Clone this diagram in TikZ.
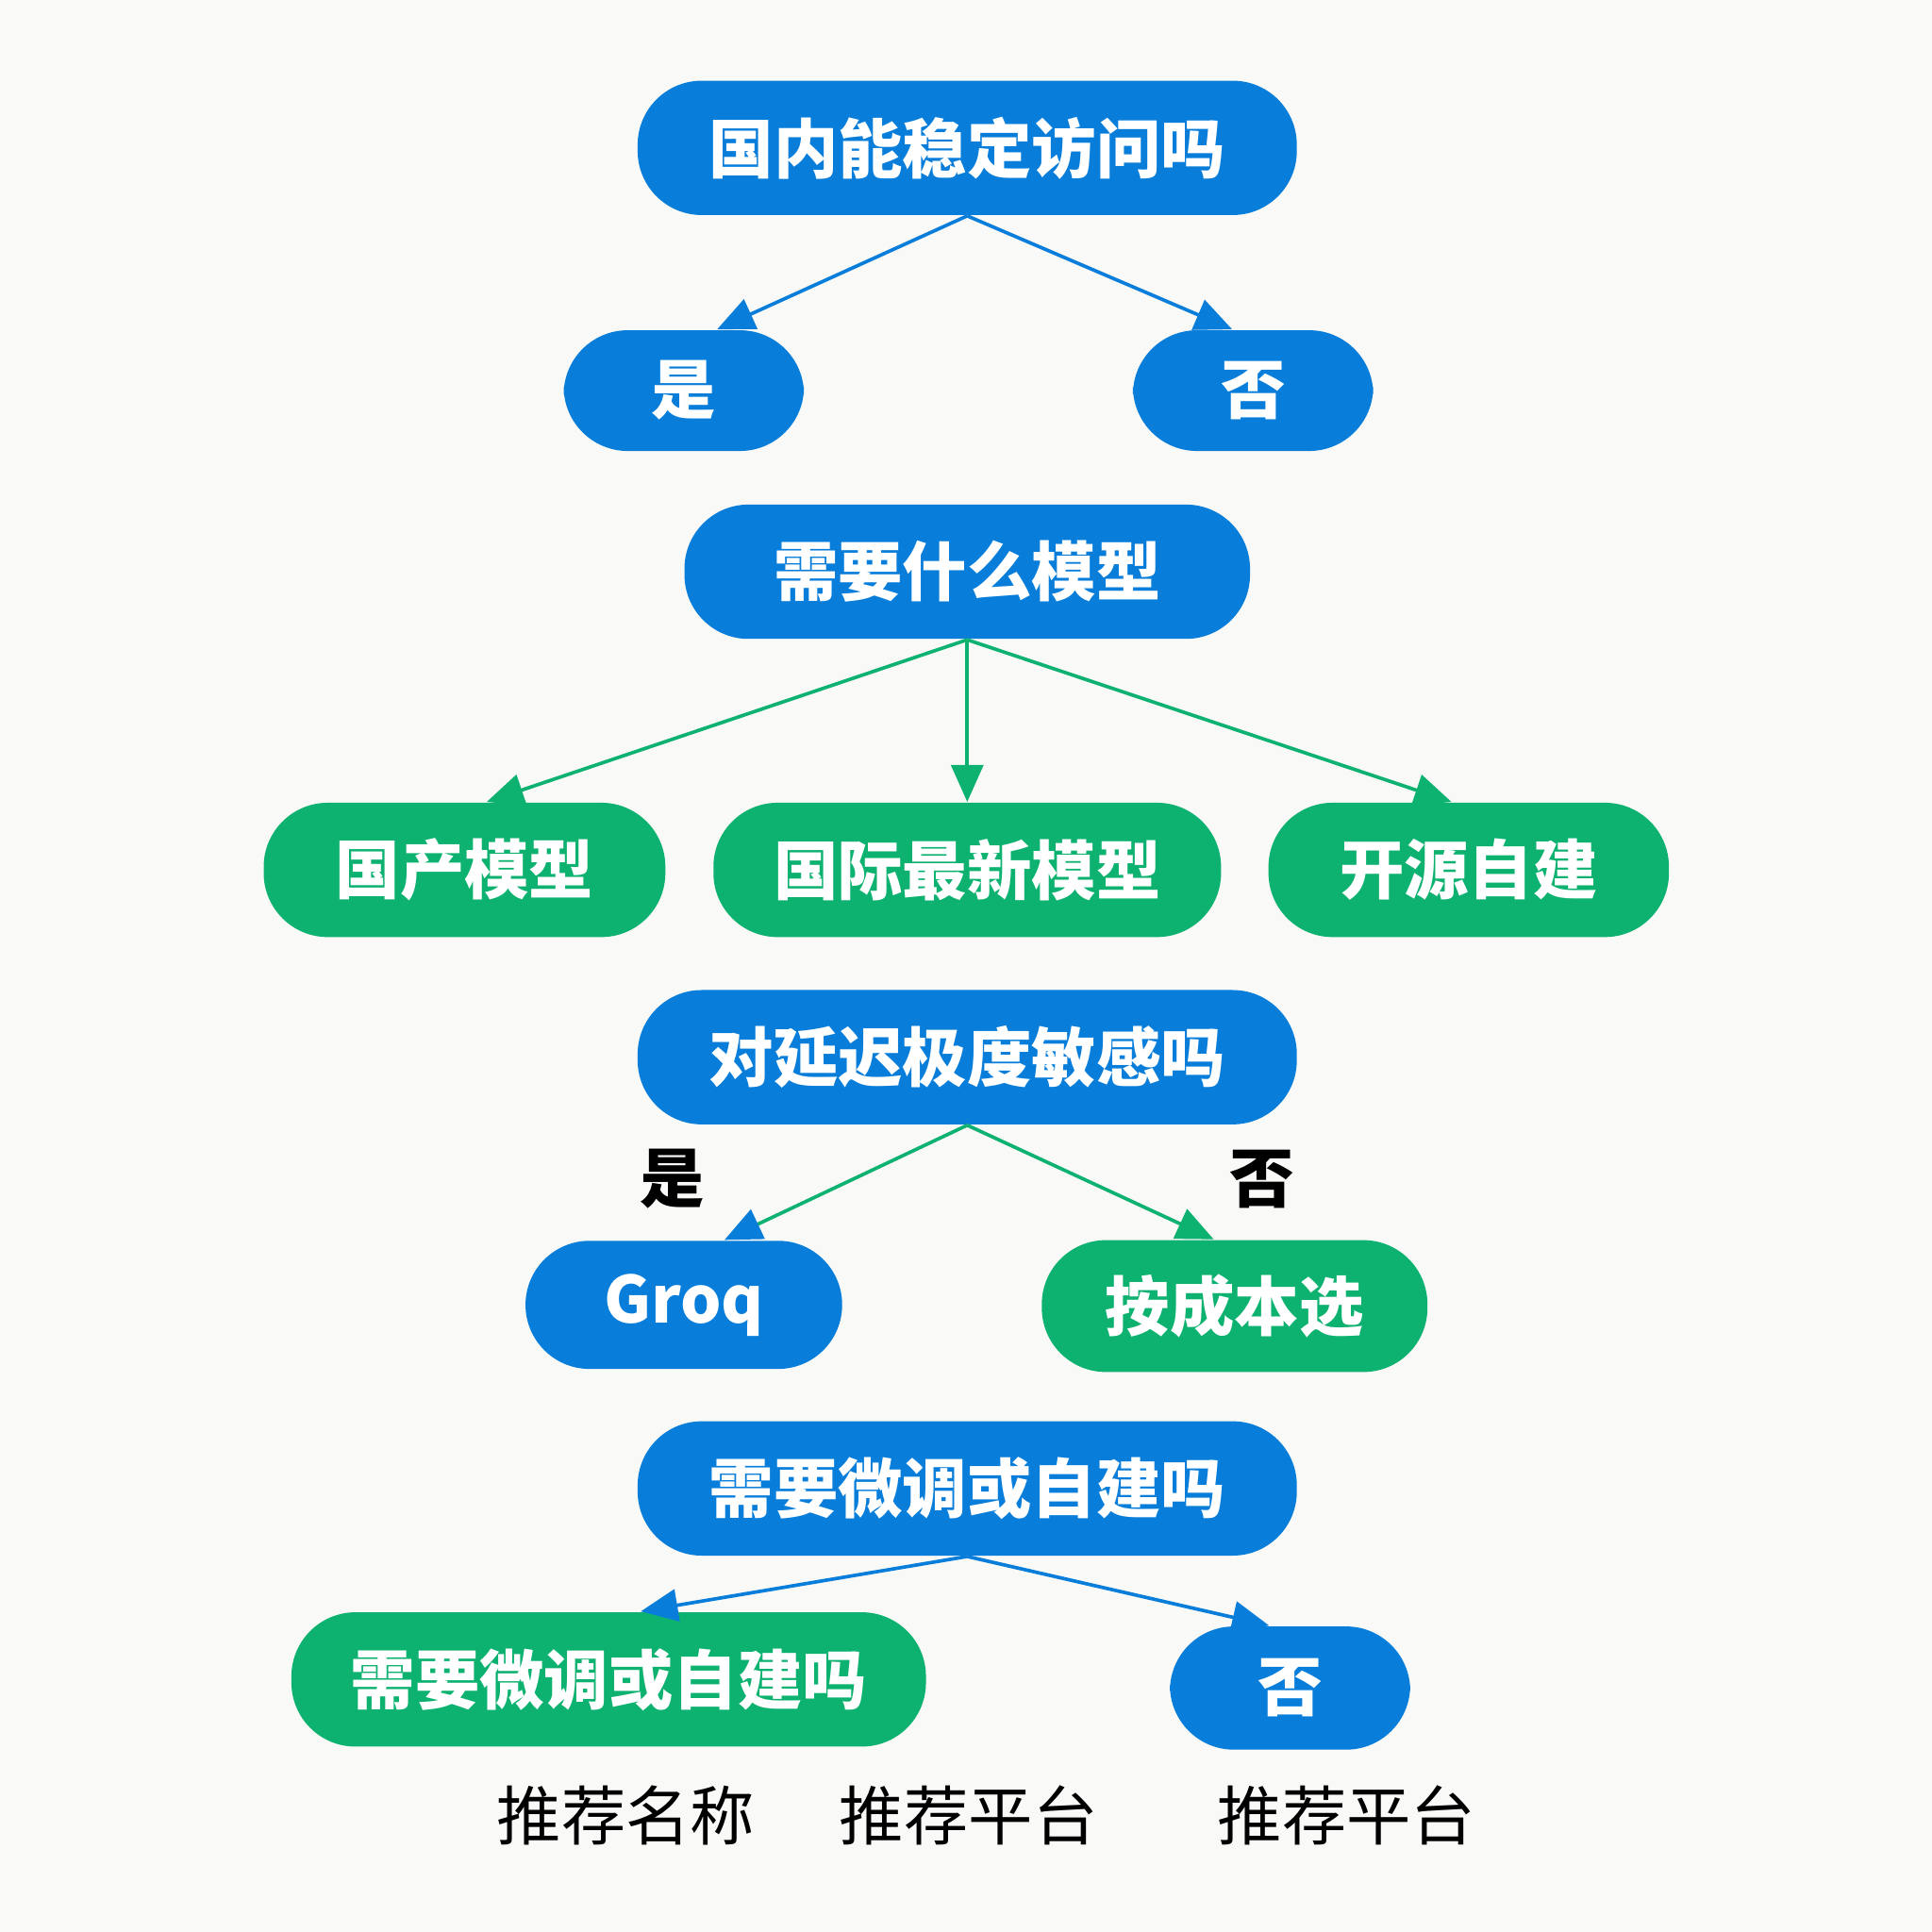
\documentclass[tikz,border=0pt]{standalone}
\usepackage{fontspec}
\setmainfont{Noto Sans CJK SC}
\usetikzlibrary{arrows.meta,calc}
\definecolor{bblue}{RGB}{8,126,218}
\definecolor{bgreen}{RGB}{14,178,112}
\definecolor{bgc}{RGB}{249,249,247}
\begin{document}
\begin{tikzpicture}[x=0.1mm,y=-0.1mm,
  pill/.style={rounded corners=5.2mm, text=white, font=\fontsize{14.9}{16}\selectfont\bfseries, inner sep=0pt, minimum height=10.9mm},
  bluepill/.style={pill, fill=bblue},
  greenpill/.style={pill, fill=bgreen},
  conn/.style={line width=0.8pt, -{Triangle[length=3mm,width=2.6mm]}},
  blueconn/.style={conn, draw=bblue},
  greenconn/.style={conn, draw=bgreen},
  edgelabel/.style={font=\fontsize{14.9}{16}\selectfont\bfseries, text=black, inner sep=0pt},
  bottomtext/.style={font=\fontsize{14.9}{16}\selectfont, text=black, inner sep=0pt}
]
\fill[bgc] (0,0) rectangle (1568,1568);
\useasboundingbox (0,0) rectangle (1568,1568);

% row 1
\node[bluepill, minimum width=53.5mm] (q1) at (785,120) {国内能稳定访问吗};
\node[bluepill, minimum width=19.5mm, minimum height=9.8mm] (yes1) at (555,317) {是};
\node[bluepill, minimum width=19.5mm, minimum height=9.8mm] (no1) at (1017,317) {否};

% row 2
\node[bluepill, minimum width=45.9mm] (q2) at (785,464) {需要什么模型};
\node[greenpill, minimum width=32.6mm] (m1) at (377,706) {国产模型};
\node[greenpill, minimum width=41.2mm] (m2) at (785,706) {国际最新模型};
\node[greenpill, minimum width=32.5mm] (m3) at (1192,706) {开源自建};

% row 3
\node[bluepill, minimum width=53.5mm] (q3) at (785,858) {对延迟极度敏感吗};
\node[bluepill, minimum width=25.7mm, minimum height=10.4mm] (groq) at (555,1059) {Groq};
\node[greenpill, minimum width=31.3mm, minimum height=10.7mm] (cost) at (1002,1060) {按成本选};
\node[edgelabel] (lyes) at (546,957) {是};
\node[edgelabel] (lno) at (1024,957) {否};

% row 4
\node[bluepill, minimum width=53.5mm] (q4) at (785,1208) {需要微调或自建吗};
\node[greenpill, minimum width=51.5mm] (g4) at (494,1363) {需要微调或自建吗};
\node[bluepill, minimum width=19.5mm, minimum height=10.0mm] (no4) at (1047,1370) {否};

% bottom texts
\node[bottomtext] (t1) at (508,1473) {推荐名称};
\node[bottomtext] (t2) at (786,1473) {推荐平台};
\node[bottomtext] (t3) at (1093,1473) {推荐平台};

% connectors
\draw[blueconn] (q1.south) -- ($(yes1.north)+(27,0)$);
\draw[blueconn] (q1.south) -- ($(no1.north)+(-17,0)$);

\draw[greenconn] (q2.south) -- ($(m1.north)+(18,0)$);
\draw[greenconn] (q2.south) -- (m2.north);
\draw[greenconn] (q2.south) -- ($(m3.north)+(-14,0)$);

\draw[conn, draw=bgreen, -{Triangle[length=3mm,width=2.6mm,color=bblue]}] (q3.south) -- ($(groq.north)+(33,0)$);
\draw[greenconn] (q3.south) -- ($(cost.north)+(-17,0)$);

\draw[blueconn] (q4.south) -- ($(g4.north)+(26,0)$);
\draw[blueconn] (q4.south) -- ($(no4.north)+(-17,0)$);
\end{tikzpicture}
\end{document}
